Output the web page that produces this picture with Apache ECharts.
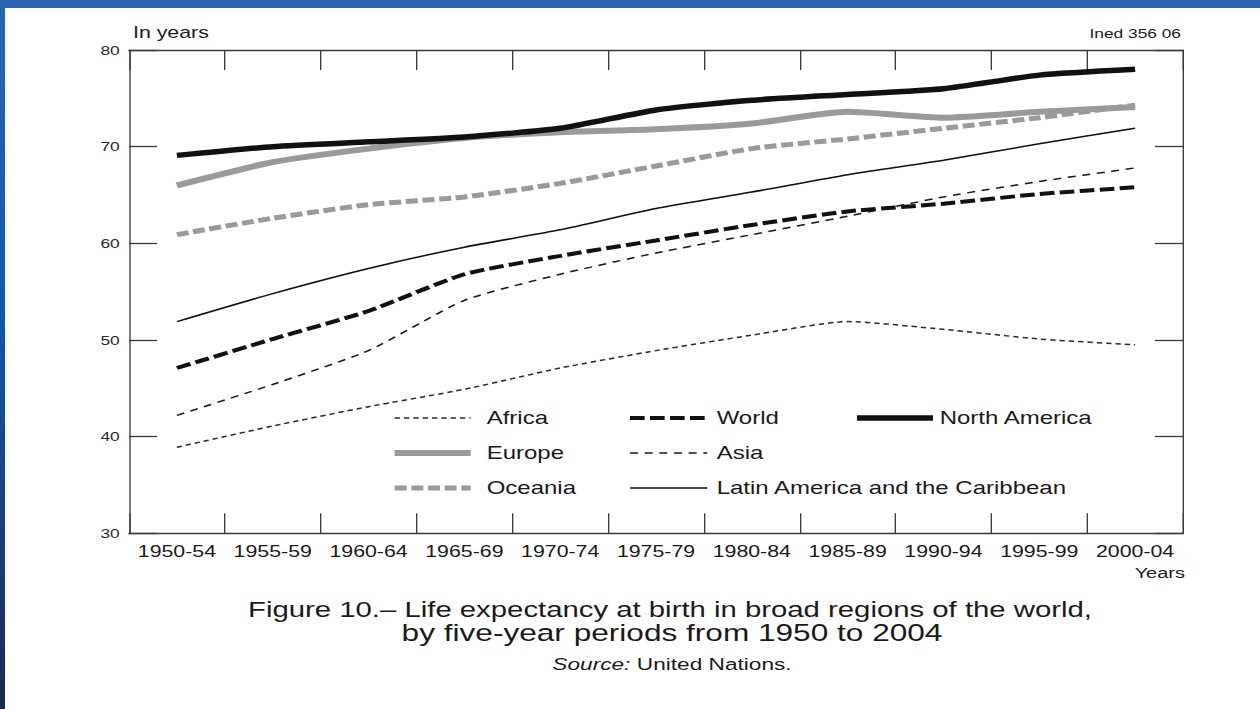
<!DOCTYPE html>
<html>
<head>
<meta charset="utf-8">
<script src="https://cdn.jsdelivr.net/npm/echarts@6/dist/echarts.min.js"></script>
<style>
html,body{margin:0;padding:0;background:#fff;overflow:hidden;}
#wrap{width:1260px;height:709px;overflow:hidden;position:relative;}
#c{width:945px;height:709px;transform:scaleX(1.3333333);transform-origin:0 0;}
</style>
</head>
<body>
<div id="wrap"><div id="c"></div></div>
<script>
// ---- data ----
const categories = ['1950-54','1955-59','1960-64','1965-69','1970-74','1975-79','1980-84','1985-89','1990-94','1995-99','2000-04'];
const africa   = [38.9, 41.1, 43.1, 44.9, 47.1, 48.9, 50.5, 51.9, 51.1, 50.1, 49.5];
const asia     = [42.2, 45.4, 48.9, 54.1, 56.8, 59.0, 60.9, 62.8, 64.8, 66.4, 67.8];
const world    = [47.1, 50.1, 53.0, 56.8, 58.7, 60.3, 61.9, 63.3, 64.1, 65.1, 65.8];
const latinAm  = [51.9, 54.8, 57.4, 59.6, 61.4, 63.6, 65.3, 67.1, 68.6, 70.3, 71.9];
const oceania  = [60.9, 62.6, 64.0, 64.8, 66.2, 68.0, 69.8, 70.8, 71.9, 73.0, 74.3];
const europe   = [66.0, 68.4, 69.8, 70.9, 71.5, 71.8, 72.4, 73.6, 73.0, 73.6, 74.1];
const northAm  = [69.1, 70.0, 70.5, 71.0, 71.9, 73.8, 74.8, 75.4, 76.0, 77.4, 78.0];
const yMin = 30, yMax = 80, yStep = 10;

// ---- styles ----
const FONT = '"Liberation Sans", Arial, Helvetica, sans-serif';
const styles = {
  'Africa':        {color:'#2a2a2a', width:1.5, type:[4,3]},
  'Asia':          {color:'#1a1a1a', width:1.5, type:[6,5]},
  'World':         {color:'#111111', width:4,   type:[11,4]},
  'Latin America and the Caribbean': {color:'#111111', width:1.5, type:'solid'},
  'Oceania':       {color:'#9a9a9a', width:5,   type:[9,3.5]},
  'Europe':        {color:'#9a9a9a', width:6,   type:'solid'},
  'North America': {color:'#111111', width:5.5, type:'solid'}
};
const seriesData = [
  ['Africa', africa], ['Asia', asia], ['World', world],
  ['Latin America and the Caribbean', latinAm], ['Oceania', oceania],
  ['Europe', europe], ['North America', northAm]
];

const series = seriesData.map(([name, data], i) => ({
  name, type:'line', data, symbol:'none', smooth:0.2, z: 2 + i,
  lineStyle: {color: styles[name].color, width: styles[name].width, type: styles[name].type, cap:'butt'},
  itemStyle: {color: styles[name].color},
  emphasis: {disabled:true}
}));

function legendItem(name){
  return {name,
    itemStyle:{opacity:0, color:'rgba(0,0,0,0)', borderWidth:0},
    lineStyle:{color:styles[name].color, width:styles[name].width, type:styles[name].type, cap:'butt', opacity:1}};
}
function legend(names, left, itemWidth, pad){
  return {
    data: names.map(legendItem), orient:'vertical', left, top:404,
    itemWidth, itemHeight:18, itemGap:17, selectedMode:false,
    textStyle:{fontFamily:FONT, fontSize:18, color:'#1a1a1a', padding:[0,0,0,pad]}
  };
}

const axisCol = '#3a3a3a';
const chart = echarts.init(document.getElementById('c'), null, {renderer:'svg'});
chart.setOption({
  animation:false,
  backgroundColor:'#ffffff',
  grid:{left:96.75, right:57.75, top:50, bottom:175.7, containLabel:false, outerBoundsMode:'none'},
  legend:[
    legend(['Africa','Europe','Oceania'], 288, 57, 7),
    legend(['World','Asia','Latin America and the Caribbean'], 465.5, 58, 2),
    legend(['North America'], 635, 57, 0)
  ],
  xAxis:[
    {type:'category', data:categories, boundaryGap:true, position:'bottom',
     axisLine:{show:true, lineStyle:{color:axisCol, width:1.3}},
     axisTick:{show:true, inside:true, length:20, lineStyle:{color:axisCol, width:1}},
     axisLabel:{interval:0, margin:10, fontFamily:FONT, fontSize:16, color:'#1a1a1a'},
     splitLine:{show:false}},
    {type:'category', data:categories, boundaryGap:true, position:'top',
     axisLine:{show:true, lineStyle:{color:axisCol, width:1.3}},
     axisTick:{show:true, inside:true, length:20, lineStyle:{color:axisCol, width:1}},
     axisLabel:{show:false}, splitLine:{show:false}}
  ],
  yAxis:[
    {type:'value', min:yMin, max:yMax, interval:yStep, position:'left',
     axisLine:{show:true, lineStyle:{color:axisCol, width:1}},
     axisTick:{show:true, inside:true, length:21, lineStyle:{color:axisCol, width:1.3}},
     axisLabel:{margin:7, fontFamily:FONT, fontSize:13, color:'#2a2a2a'},
     splitLine:{show:false}},
    {type:'value', min:yMin, max:yMax, interval:yStep, position:'right',
     axisLine:{show:true, lineStyle:{color:axisCol, width:1}},
     axisTick:{show:true, inside:true, length:21, lineStyle:{color:axisCol, width:1.3}},
     axisLabel:{show:false}, splitLine:{show:false}}
  ],
  series,
  graphic:[
    {type:'rect', z:100, shape:{x:0, y:0, width:945, height:8},
     style:{fill:{type:'linear', x:0, y:0, x2:1, y2:0, colorStops:[{offset:0,color:'#2b63ae'},{offset:1,color:'#2c64b0'}]}}},
    {type:'rect', z:100, shape:{x:0, y:0, width:3.75, height:709},
     style:{fill:{type:'linear', x:0, y:0, x2:0, y2:1, colorStops:[
       {offset:0,color:'#2c64ae'},{offset:0.45,color:'#1256a6'},{offset:0.72,color:'#1d3f7e'},{offset:1,color:'#1a2a50'}]}}},
    {type:'text', z:50, x:99.75, y:32,
     style:{text:'In years', fontFamily:FONT, fontSize:16, fill:'#1a1a1a', align:'left', verticalAlign:'middle'}},
    {type:'text', z:50, x:885.75, y:33,
     style:{text:'Ined 356 06', fontFamily:FONT, fontSize:13, fill:'#1a1a1a', align:'right', verticalAlign:'middle'}},
    {type:'text', z:50, x:888.75, y:573,
     style:{text:'Years', fontFamily:FONT, fontSize:15, fill:'#1a1a1a', align:'right', verticalAlign:'middle'}},
    {type:'text', z:50, x:502.5, y:609,
     style:{text:'Figure 10.\u2013 Life expectancy at birth in broad regions of the world,',
            fontFamily:FONT, fontSize:22, fill:'#1a1a1a', align:'center', verticalAlign:'middle'}},
    {type:'text', z:50, x:504, y:633,
     style:{text:'by five-year periods from 1950 to 2004',
            fontFamily:FONT, fontSize:23.7, fill:'#1a1a1a', align:'center', verticalAlign:'middle'}},
    {type:'text', z:50, x:504, y:664,
     style:{text:'{i|Source:} United Nations.', fontFamily:FONT, fontSize:17, fill:'#1a1a1a', align:'center', verticalAlign:'middle',
            rich:{i:{fontStyle:'italic', fontFamily:FONT, fontSize:17, fill:'#1a1a1a'}}}}
  ]
});
</script>
</body>
</html>
